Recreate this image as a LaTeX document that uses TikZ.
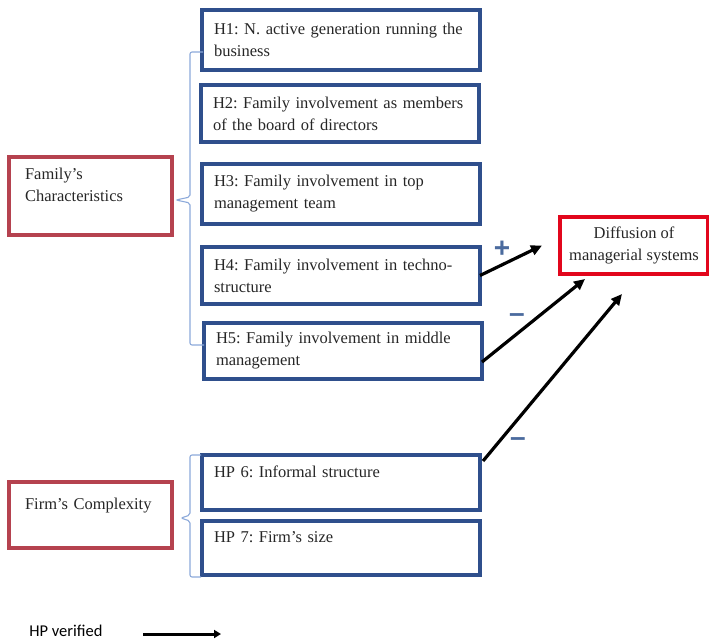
\documentclass[tikz,border=0pt]{standalone}
\usepackage{fontspec}
\setmainfont{Liberation Serif}
\newfontfamily\legendfont{Carlito}
\newfontfamily\signfont{Liberation Sans}
\usetikzlibrary{arrows.meta}
\definecolor{hblue}{HTML}{2F4F8C}
\definecolor{famred}{HTML}{B5424F}
\definecolor{difred}{HTML}{E2061C}
\definecolor{brblue}{HTML}{8CA9DA}
\definecolor{signblue}{HTML}{4B6B9E}
\definecolor{txtgray}{HTML}{262626}
\frenchspacing
\hyphenpenalty=10000
\begin{document}
\begin{tikzpicture}[x=1pt,y=-1pt,
  every node/.style={outer sep=0pt,text=txtgray,font=\fontsize{16.5}{22}\selectfont},
  hbox/.style={draw=hblue,line width=3.2pt,anchor=north west,minimum width=276pt,
    minimum height=58pt,inner xsep=12pt,text width=254pt,align=left},
  factor/.style={draw=famred,line width=3.2pt,anchor=north west,minimum width=163pt,
    inner xsep=16pt,text width=131pt,align=left},
  bracket/.style={draw=brblue,line width=1.1pt,rounded corners=2pt},
  effect/.style={line width=3.2pt,-{Triangle[length=11pt,width=10pt]}},
  sign/.style={text=signblue,font=\signfont\bfseries\fontsize{28}{28}\selectfont}]
\useasboundingbox (0,0) rectangle (709,642);
\node[factor,minimum height=78pt] (fam) at (9,157) {Family’s\\Characteristics\\ \mbox{}};
\node[factor,minimum height=66pt] (firm) at (9,482) {Firm’s Complexity\\ \mbox{}};
\node[hbox,minimum height=60pt] (h1) at (202,10) {H1: N. active generation running the\\business};
\node[hbox,minimum height=57pt] (h2) at (201,85) {H2: Family involvement as members\\of the board of directors};
\node[hbox,minimum height=60pt] (h3) at (202,164) {H3: Family involvement in top\\management team};
\node[hbox,minimum height=57pt] (h4) at (202,247) {H4: Family involvement in techno-\\structure};
\node[hbox,minimum height=56pt,minimum width=278pt] (h5) at (204,323) {H5: Family involvement in middle\\management};
\node[hbox,minimum height=55pt,minimum width=278pt] (hp6) at (202,455) {HP 6: Informal structure\\ \mbox{}};
\node[hbox,minimum height=54pt,minimum width=278pt] (hp7) at (202,521) {HP 7: Firm’s size\\ \mbox{}};
\node[draw=difred,line width=3.2pt,anchor=north west,minimum width=148pt,minimum height=57pt,
  align=center] (diff) at (560,217) {Diffusion of\\managerial systems};
% braces
\draw[bracket] (203,52) -- (190,52) -- (190,197) -- (176,200) -- (190,203) -- (190,345) -- (204,345);
\draw[bracket] (201,455) -- (190,455) -- (190,515) -- (181,518) -- (190,521) -- (190,577) -- (201,577);
% effects
\coordinate (e4) at ([xshift=-18pt]diff.west);
\coordinate (e5) at ([shift={(25,5)}]diff.south west);
\coordinate (e6) at ([shift={(62,20)}]diff.south west);
\draw[effect] (h4.east) -- (e4);
\draw[effect] ([yshift=-11pt]h5.east) -- (e5);
\draw[effect] ([shift={(3,6)}]hp6.north east) -- (e6);
\node[sign] (plus) at (502,249) {+};
\node[sign] (minus5) at (517,318) {–};
\node[sign] (minus6) at (518,442) {–};
% legend
\node[font=\legendfont\fontsize{16.5}{16.5}\selectfont,anchor=west,text=black] (hpv) at (26,631) {HP verified};
\coordinate (ls) at (143,634);
\coordinate (le) at (221,634);
\draw[line width=3pt,-{Triangle[length=7pt,width=8pt]}] (ls) -- (le);
\end{tikzpicture}
\end{document}
